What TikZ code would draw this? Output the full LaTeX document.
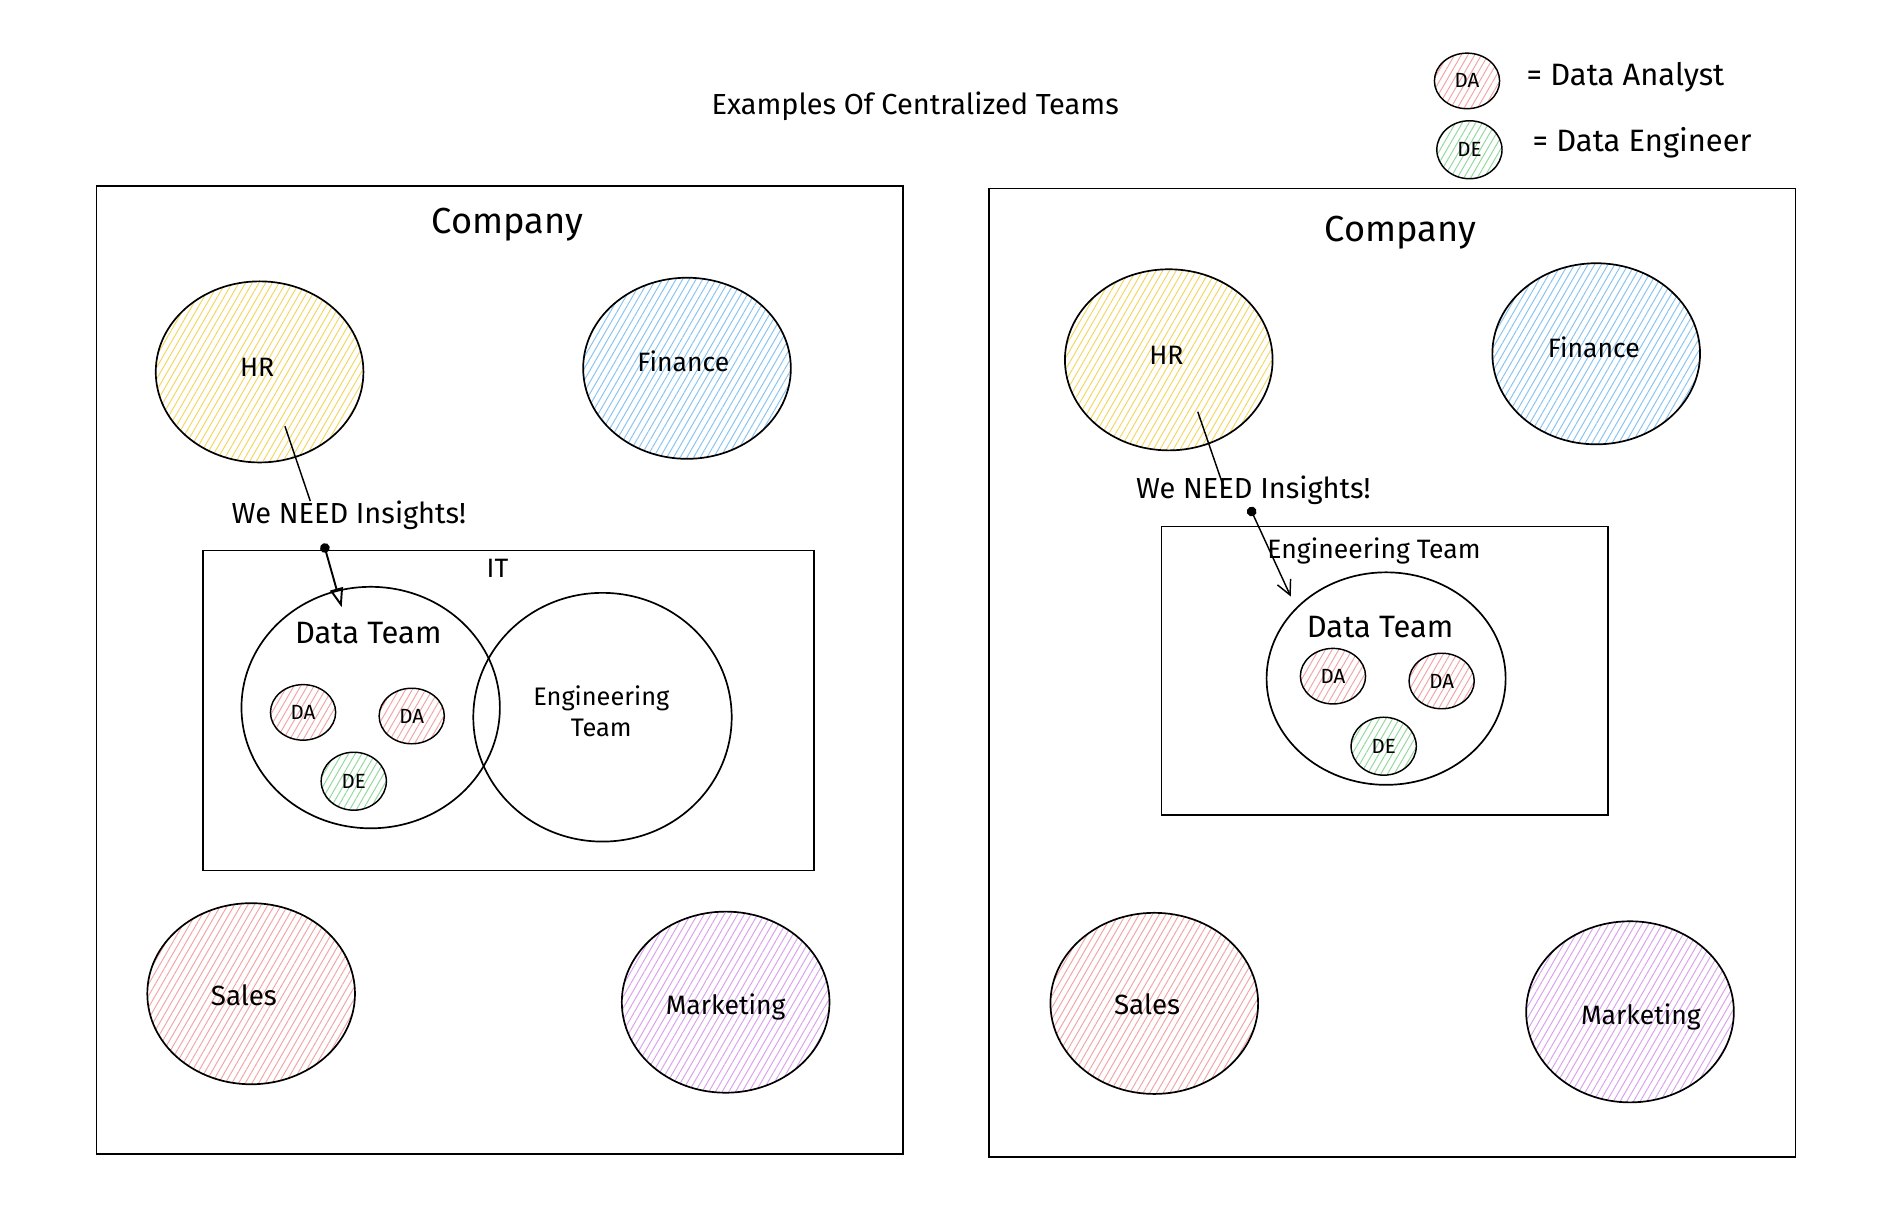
\documentclass[tikz,border=0pt]{standalone}
\usepackage{fontspec}
\setmainfont{Fira Sans}
\usetikzlibrary{shapes.geometric,patterns.meta,arrows.meta}
\definecolor{hrcol}{HTML}{F2D660}
\definecolor{fincol}{HTML}{86C3F2}
\definecolor{salcol}{HTML}{F3A3A3}
\definecolor{mkcol}{HTML}{D9A0EE}
\definecolor{decol}{HTML}{8FD99A}
\tikzset{
  fs/.style={font=\fontsize{#1}{#1}\selectfont},
  hatch/.style={pattern={Lines[angle=60,distance=2.4pt,line width=0.4pt]}, pattern color=#1},
  dept/.style={ellipse, draw=black, line width=0.7pt, inner sep=0pt, minimum width=86pt, minimum height=75pt, fs=11},
  member/.style={ellipse, draw=black, line width=0.6pt, inner sep=0pt, minimum width=27pt, minimum height=23pt, fs=8.5},
  frame/.style={draw=black, line width=0.7pt, inner sep=0pt},
  team/.style={ellipse, draw=black, line width=0.7pt, inner sep=0pt},
  conn/.style={draw=black, line width=0.6pt},
  label/.style={inner sep=1pt},
}
\begin{document}
\begin{tikzpicture}[x=0.5pt, y=-0.5pt]
\useasboundingbox (0,0) rectangle (1567,1009);

% title and legend
\node[label, fs=12] (title) at (758,88) {Examples Of Centralized Teams};
\node[member, hatch=salcol] (legDA) at (1215,67) {DA};
\node[label, fs=12.8, anchor=west] (legDAt) at (1262,64) {= Data Analyst};
\node[member, hatch=decol, minimum height=24pt] (legDE) at (1217,124) {DE};
\node[label, fs=12.8, anchor=west] (legDEt) at (1267,118) {= Data Engineer};

% ---------- left company ----------
\node[frame, minimum width=334pt, minimum height=401pt] (compL) at (414,555) {};
\node[label, fs=15] (compLt) at (420,186) {Company};
\node[dept, hatch=hrcol] (hrL) at (215,308) {};
\node[label, fs=11] (hrLt) at (213,304) {HR};
\node[dept, hatch=fincol] (finL) at (569,305) {};
\node[label, fs=11] (finLt) at (566,299) {Finance};
\node[dept, hatch=salcol] (salL) at (208,823) {};
\node[label, fs=11.5] (salLt) at (202,824) {Sales};
\node[dept, hatch=mkcol] (mkL) at (601,830) {};
\node[label, fs=11] (mkLt) at (601,834) {Marketing};

\node[frame, minimum width=253pt, minimum height=132.5pt] (itL) at (421,588.5) {};
\node[label, fs=11] (itLt) at (412,471) {IT};
\node[team, minimum width=107pt, minimum height=100pt] (dtL) at (307,586) {};
\node[label, fs=12.8] (dtLt) at (305,524) {Data Team};
\node[member, hatch=salcol] (da1L) at (251,590) {DA};
\node[member, hatch=salcol] (da2L) at (341,593) {DA};
\node[member, hatch=decol, minimum height=24pt] (deL) at (293,647) {DE};
\node[team, minimum width=107pt, minimum height=103pt] (etL) at (499,594) {};
\node[label, fs=10.5, align=center] (etLt) at (498,589) {Engineering\\[2pt]Team};

\node[label, fs=12] (needL) at (289,427) {We NEED Insights!};
\coordinate (lnLs) at (236,353);
\coordinate (lnLe) at (257,415);
\draw[conn] (lnLs) -- (lnLe);
\coordinate (arLs) at (268,450);
\coordinate (arLe) at (283,503);
\draw[conn, line width=0.8pt, {Circle[length=4pt]}-{Triangle[open,length=8pt,width=5.5pt]}] (arLs) -- (arLe);

% ---------- right company ----------
\node[frame, minimum width=334pt, minimum height=401pt] (compR) at (1153,557) {};
\node[label, fs=15] (compRt) at (1160,193) {Company};
\node[dept, hatch=hrcol] (hrR) at (968,298) {};
\node[label, fs=11] (hrRt) at (966,294) {HR};
\node[dept, hatch=fincol] (finR) at (1322,293) {};
\node[label, fs=11] (finRt) at (1320,288) {Finance};
\node[dept, hatch=salcol] (salR) at (956,831) {};
\node[label, fs=11.5] (salRt) at (950,832) {Sales};
\node[dept, hatch=mkcol] (mkR) at (1350,838) {};
\node[label, fs=11] (mkRt) at (1359,842) {Marketing};

\node[frame, minimum width=185pt, minimum height=119.5pt] (engR) at (1147,555.5) {};
\node[label, fs=11] (engRt) at (1138,456) {Engineering Team};
\node[team, minimum width=99pt, minimum height=88pt] (dtR) at (1148,562) {};
\node[label, fs=12.8] (dtRt) at (1143,519) {Data Team};
\node[member, hatch=salcol] (da1R) at (1104,560) {DA};
\node[member, hatch=salcol] (da2R) at (1194,564) {DA};
\node[member, hatch=decol, minimum height=24pt] (deR) at (1146,618) {DE};

\coordinate (lnRs) at (992,341);
\coordinate (lnRe) at (1014,405);
\draw[conn] (lnRs) -- (lnRe);
\node[label, fs=12] (needR) at (1038,406) {We NEED Insights!};
\coordinate (arRs) at (1035,420);
\coordinate (arRe) at (1069,494);
\draw[conn, {Circle[length=4pt]}-{Straight Barb[length=6pt,width=6pt]}] (arRs) -- (arRe);
\end{tikzpicture}
\end{document}
